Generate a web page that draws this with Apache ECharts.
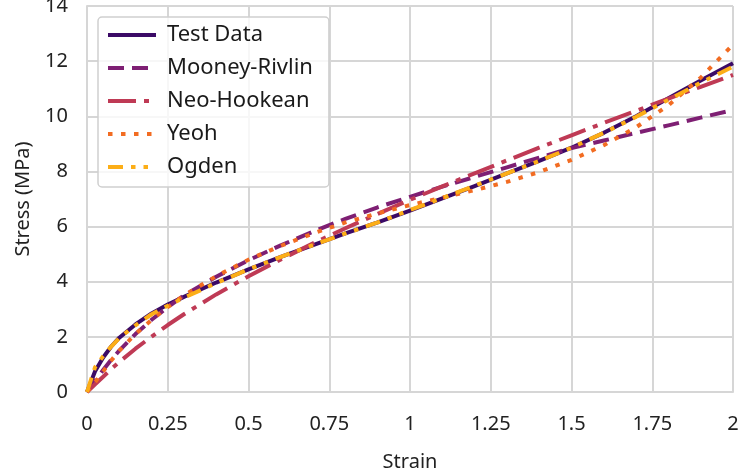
<!DOCTYPE html>
<html>
<head>
<meta charset="utf-8">
<script src="https://cdn.jsdelivr.net/npm/echarts@6/dist/echarts.min.js"></script>
<style>
html,body{margin:0;padding:0;background:#fff;}
#chart{width:738px;height:473px;}
</style>
</head>
<body>
<div id="chart"></div>
<script>
const strain = [0, 0.025, 0.05, 0.075, 0.1, 0.15, 0.2, 0.25, 0.3, 0.4, 0.5, 0.6, 0.7, 0.8, 0.9, 1.0, 1.1, 1.2, 1.3, 1.4, 1.5, 1.6, 1.7, 1.8, 1.9, 2.0];
const testData     = [0, 0.75, 1.25, 1.65, 1.97, 2.45, 2.85, 3.17, 3.45, 3.97, 4.45, 4.9, 5.33, 5.75, 6.15, 6.58, 7.02, 7.47, 7.93, 8.38, 8.86, 9.4, 10.0, 10.65, 11.3, 11.92];
const mooneyRivlin = [0, 0.4, 0.8, 1.17, 1.5, 2.1, 2.62, 3.08, 3.5, 4.18, 4.78, 5.32, 5.82, 6.28, 6.7, 7.08, 7.45, 7.8, 8.15, 8.5, 8.85, 9.12, 9.4, 9.67, 9.95, 10.23];
const neoHookean   = [0, 0.28, 0.55, 0.83, 1.09, 1.57, 2.01, 2.43, 2.82, 3.54, 4.2, 4.81, 5.39, 5.94, 6.46, 6.97, 7.46, 7.93, 8.4, 8.86, 9.31, 9.76, 10.2, 10.64, 11.07, 11.5];
const yeoh         = [0, 0.35, 0.75, 1.14, 1.5, 2.1, 2.62, 3.08, 3.5, 4.2, 4.8, 5.3, 5.75, 6.15, 6.48, 6.78, 7.05, 7.32, 7.62, 7.98, 8.42, 8.95, 9.6, 10.4, 11.4, 12.6];
const ogden        = [0, 0.9, 1.3, 1.65, 1.96, 2.42, 2.82, 3.13, 3.42, 3.95, 4.45, 4.9, 5.33, 5.75, 6.15, 6.6, 7.03, 7.48, 7.93, 8.38, 8.86, 9.4, 9.98, 10.6, 11.22, 11.8];
const seriesNames = ['Test Data', 'Mooney-Rivlin', 'Neo-Hookean', 'Yeoh', 'Ogden'];
const xTicks = [0, 0.25, 0.5, 0.75, 1, 1.25, 1.5, 1.75, 2];
const yTicks = [0, 2, 4, 6, 8, 10, 12, 14];

const pair = arr => strain.map((x, i) => [x, arr[i]]);
const FONT = 'Noto Sans';
const gridColor = '#d6d6d6';

const styles = [
  {color: '#3b0a66', type: 'solid'},
  {color: '#7e1f73', type: [16, 8]},
  {color: '#bf3a55', type: [28, 8, 5, 8]},
  {color: '#f26c22', type: [4.5, 8.5]},
  {color: '#fcae17', type: [15, 8, 4.5, 8, 4.5, 8]}
];
const values = [testData, mooneyRivlin, neoHookean, yeoh, ogden];

const chart = echarts.init(document.getElementById('chart'), null, {renderer: 'canvas'});
chart.setOption({
  animation: false,
  backgroundColor: '#fff',
  textStyle: {fontFamily: FONT},
  grid: {left: 87, right: 5, top: 6, bottom: 81, containLabel: false, outerBoundsMode: 'none'},
  legend: {
    orient: 'vertical',
    left: 98, top: 17,
    padding: [7, 16, 9, 8],
    itemWidth: 48, itemHeight: 18, itemGap: 11,
    backgroundColor: 'rgba(255,255,255,0.8)',
    borderColor: '#cfcfcf', borderWidth: 1.5, borderRadius: 4,
    itemStyle: {opacity: 0, borderWidth: 0},
    lineStyle: {width: 4},
    textStyle: {fontFamily: FONT, fontSize: 22, lineHeight: 22, color: '#1a1a1a', padding: [0, 0, 0, 6]},
    data: seriesNames
  },
  xAxis: {
    type: 'value', min: 0, max: 2, interval: 0.25,
    name: 'Strain', nameLocation: 'middle', nameGap: 60,
    nameTextStyle: {fontFamily: FONT, fontSize: 20, color: '#222'},
    axisLine: {show: true, lineStyle: {color: gridColor, width: 2}},
    axisTick: {show: false},
    axisLabel: {fontFamily: FONT, fontSize: 20, color: '#222', margin: 22,
      formatter: v => xTicks.includes(v) ? String(v) : ''},
    splitLine: {show: true, lineStyle: {color: gridColor, width: 2}}
  },
  yAxis: {
    type: 'value', min: 0, max: 14, interval: 2,
    name: 'Stress (MPa)', nameLocation: 'middle', nameGap: 54, nameRotate: 90,
    nameTextStyle: {fontFamily: FONT, fontSize: 20, color: '#222'},
    axisLine: {show: true, lineStyle: {color: gridColor, width: 2}},
    axisTick: {show: false},
    axisLabel: {fontFamily: FONT, fontSize: 20, color: '#222', margin: 19,
      formatter: v => yTicks.includes(v) ? String(v) : ''},
    splitLine: {show: true, lineStyle: {color: gridColor, width: 2}}
  },
  series: seriesNames.map((name, i) => ({
    name: name,
    type: 'line',
    data: pair(values[i]),
    showSymbol: false,
    symbol: 'none',
    smooth: false,
    color: styles[i].color,
    lineStyle: {color: styles[i].color, width: 4, type: styles[i].type, cap: 'butt', join: 'round'},
    z: 2 + i
  }))
});
</script>
</body>
</html>
